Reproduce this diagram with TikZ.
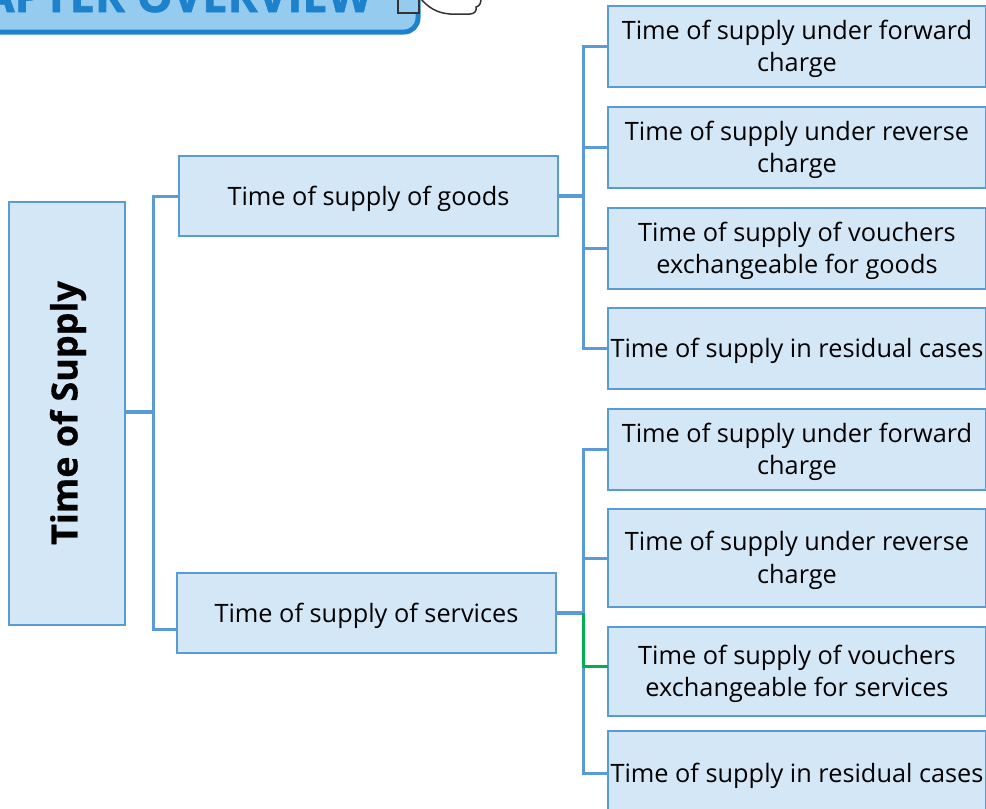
\documentclass[tikz,border=0pt]{standalone}
\usepackage{fontspec}
\setmainfont{Open Sans}
\newfontfamily\heavyfont[BoldFeatures={FakeBold=1.4}]{Open Sans}
\newfontfamily\strongfont[BoldFeatures={FakeBold=0.5}]{Open Sans}
\definecolor{boxfill}{HTML}{D3E7F7}
\definecolor{boxline}{HTML}{5B9BD5}
\definecolor{gr}{HTML}{00B050}
\definecolor{ttl}{HTML}{1D82CB}
\definecolor{ttlfill}{HTML}{96CBF0}
\tikzset{
  bx/.style={draw=boxline,fill=boxfill,line width=2.8pt,inner sep=0pt,outer sep=0pt,
    label={[lbl]center:{#1}}},
  lbl/.style={align=center,inner sep=0pt,font=\fontsize{25.3}{32.5}\selectfont,text=black,yshift=-2.5pt},
  wire/.style={draw=boxline,line width=3pt},
  trunk/.style={draw=boxline,line width=3.8pt},
}
\newcommand{\bxat}[6]{\node[bx={#6},minimum width=#4 pt-#2 pt,minimum height=#5 pt-#3 pt,anchor=north west] (#1) at (#2,#3) {};}
\begin{document}
\begin{tikzpicture}[x=1pt,y=-1pt]
\useasboundingbox (0,0) rectangle (986,809);
\begin{scope}
\clip (0,0) rectangle (986,809);
% title banner
\node[draw=ttl,fill=ttlfill,line width=5pt,rounded corners=14pt,minimum width=460pt,minimum height=70pt,anchor=south east] (banner) at (420.5,34.5) {};
\node[anchor=base east,text=ttl,font=\fontsize{45.5}{45.5}\heavyfont\bfseries\selectfont,inner sep=0pt] (title) at (372,12) {CHAPTER OVERVIEW};
% hand
\draw[draw=black!80,line width=1.5pt,fill=white] (420,-2) .. controls (428,7) and (436,13) .. (450,14) -- (470,14) .. controls (475,14) and (477,10) .. (476,7) .. controls (480,6) and (481,3) .. (481,-2);
\fill[ttlfill] (397,-3) rectangle (419,13);
\draw[draw=black!80,line width=2pt] (397.5,-3) |- (418.5,13) -- (418.5,-3);
% nodes
\bxat{root}{9}{202}{125}{625}{}
\node[rotate=90,font=\fontsize{36}{36}\strongfont\bfseries\selectfont] (rootlabel) at (68,413) {Time of Supply};
\bxat{goods}{179}{156}{558}{236}{Time of supply of goods}
\bxat{services}{177}{573}{556}{653}{Time of supply of services}
\bxat{g1}{608}{6}{986}{87}{Time of supply under forward\\charge}
\bxat{g2}{608}{107}{986}{188}{Time of supply under reverse\\charge}
\bxat{g3}{608}{208}{986}{289}{Time of supply of vouchers\\exchangeable for goods}
\bxat{g4}{608}{308}{986}{389}{Time of supply in residual cases}
\bxat{s1}{608}{409}{986}{490}{Time of supply under forward\\charge}
\bxat{s2}{608}{509}{986}{607}{Time of supply under reverse\\charge}
\bxat{s3}{608}{627}{986}{716}{Time of supply of vouchers\\exchangeable for services}
\bxat{s4}{608}{731}{986}{815}{Time of supply in residual cases}
% junctions
\coordinate (vr) at (153,412);
\coordinate (vx) at (583,0);
\coordinate (jg) at (goods.east -| vx);
\coordinate (js) at (services.east -| vx);
% connectors
\draw[trunk] (root.east |- vr) -- (vr);
\draw[wire] (goods.west) -| (vr);
\draw[wire] ([yshift=-16pt]services.west) -| (vr);
\draw[trunk] (goods.east) -- (jg);
\draw[trunk] (services.east) -- (js);
\draw[wire] (jg) |- (g1.west);
\draw[wire] (jg) |- (g2.west);
\draw[wire] (jg) |- (g3.west);
\draw[wire] (jg) |- (g4.west);
\draw[wire] (js) |- (s1.west);
\draw[wire] (js) |- (s2.west);
\draw[wire] (js) |- (s4.west);
\draw[draw=gr,line width=3pt] (js) |- ([yshift=5.5pt]s3.west);
\end{scope}
\end{tikzpicture}
\end{document}
